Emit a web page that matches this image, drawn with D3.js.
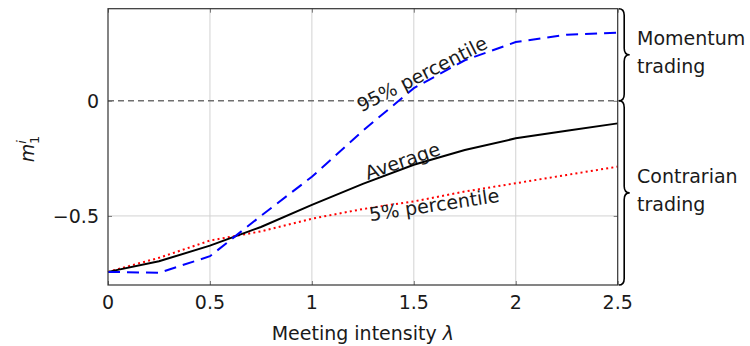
<!DOCTYPE html>
<html>
<head>
<meta charset="utf-8">
<script src="https://cdn.jsdelivr.net/npm/d3@7/dist/d3.min.js"></script>
<style>
  html, body { margin: 0; padding: 0; background: #fff; }
  svg { display: block; }
  text { font-family: "DejaVu Sans", sans-serif; fill: #1a1a1a; }
</style>
</head>
<body>
<svg id="chart" width="750" height="346"></svg>
<script>
// Meeting intensity grid
const lambdas = [0, 0.25, 0.5, 0.75, 1.0, 1.25, 1.5, 1.75, 2.0, 2.25, 2.5];
// m_1^i series
const p95 = [-0.743, -0.747, -0.675, -0.500, -0.330, -0.130, 0.055, 0.176, 0.255, 0.287, 0.296];
const avg = [-0.743, -0.697, -0.629, -0.548, -0.452, -0.361, -0.278, -0.214, -0.163, -0.130, -0.098];
const p5  = [-0.743, -0.682, -0.607, -0.567, -0.512, -0.470, -0.437, -0.394, -0.358, -0.322, -0.286];

const xTicks = [0, 0.5, 1, 1.5, 2, 2.5];
const xTickLabels = ["0", "0.5", "1", "1.5", "2", "2.5"];
const yTicks = [-0.5, 0];
const yTickLabels = ["\u22120.5", "0"];

// Curve labels: text, anchor (lambda, m), rotation
const curveLabels = [
  { text: "95% percentile", lx: 1.54, ly: 0.116, rot: -27 },
  { text: "Average", lx: 1.444, ly: -0.261, rot: -19 },
  { text: "5% percentile", lx: 1.60, ly: -0.452, rot: -8.5 }
];

const regimes = [
  { lines: ["Momentum", "trading"], from: 0.4, to: 0 },
  { lines: ["Contrarian", "trading"], from: 0, to: -0.8 }
];

const W = 750, H = 346;
const plot = { left: 108, right: 617.7, top: 8.7, bottom: 285 };
const FS = 19;

const svg = d3.select("#chart");
const x = d3.scaleLinear().domain([0, 2.5]).range([plot.left, plot.right]);
const y = d3.scaleLinear().domain([-0.8, 0.4]).range([plot.bottom, plot.top]);

// grid
const grid = svg.append("g");
grid.selectAll("line.vx").data(xTicks.filter(t => t > 0 && t < 2.5)).join("line")
  .attr("x1", d => x(d)).attr("x2", d => x(d))
  .attr("y1", plot.top).attr("y2", plot.bottom)
  .attr("stroke", "#d2d2d2").attr("stroke-width", 1);
grid.selectAll("line.hy").data(yTicks.filter(t => t !== 0)).join("line")
  .attr("x1", plot.left).attr("x2", plot.right)
  .attr("y1", d => y(d)).attr("y2", d => y(d))
  .attr("stroke", "#d2d2d2").attr("stroke-width", 1);

// zero reference line
svg.append("line")
  .attr("x1", plot.left).attr("x2", plot.right)
  .attr("y1", y(0)).attr("y2", y(0))
  .attr("stroke", "#707070").attr("stroke-width", 1.6)
  .attr("stroke-dasharray", "6,4");

// series
const line = d3.line().x((d, i) => x(lambdas[i])).y(d => y(d));
svg.append("path").datum(p5).attr("d", line)
  .attr("fill", "none").attr("stroke", "#ff0000").attr("stroke-width", 2)
  .attr("stroke-dasharray", "2,3.2");
svg.append("path").datum(avg).attr("d", line)
  .attr("fill", "none").attr("stroke", "#000").attr("stroke-width", 2);
svg.append("path").datum(p95).attr("d", line)
  .attr("fill", "none").attr("stroke", "#0000ff").attr("stroke-width", 2)
  .attr("stroke-dasharray", "12,7");

// axes (ticks drawn inward on all four sides)
const xAxisB = d3.axisBottom(x).tickValues(xTicks).tickSize(-4).tickFormat("");
const xAxisT = d3.axisTop(x).tickValues(xTicks).tickSize(-4).tickFormat("");
const yAxisL = d3.axisLeft(y).tickValues(yTicks).tickSize(-4).tickFormat("");
const yAxisR = d3.axisRight(y).tickValues(yTicks).tickSize(-4).tickFormat("");
function styleAxis(g) {
  g.select(".domain").remove();
  g.selectAll(".tick line").attr("stroke", "#777");
}
svg.append("g").attr("transform", `translate(0,${plot.bottom})`).call(xAxisB).call(styleAxis);
svg.append("g").attr("transform", `translate(0,${plot.top})`).call(xAxisT).call(styleAxis);
svg.append("g").attr("transform", `translate(${plot.left},0)`).call(yAxisL).call(styleAxis);
svg.append("g").attr("transform", `translate(${plot.right},0)`).call(yAxisR).call(styleAxis);

svg.append("rect")
  .attr("x", plot.left).attr("y", plot.top)
  .attr("width", plot.right - plot.left).attr("height", plot.bottom - plot.top)
  .attr("fill", "none").attr("stroke", "#333").attr("stroke-width", 1.2);

// tick labels
svg.append("g").selectAll("text").data(xTicks).join("text")
  .attr("x", d => x(d)).attr("y", 309)
  .attr("text-anchor", "middle").attr("font-size", FS)
  .text((d, i) => xTickLabels[i]);
svg.append("g").selectAll("text").data(yTicks).join("text")
  .attr("x", plot.left - 9).attr("y", d => y(d)).attr("dy", "0.36em")
  .attr("text-anchor", "end").attr("font-size", FS)
  .text((d, i) => yTickLabels[i]);

// axis titles
const xt = svg.append("text").attr("x", x(1.25)).attr("y", 340)
  .attr("text-anchor", "middle").attr("font-size", FS);
xt.append("tspan").text("Meeting intensity ");
xt.append("tspan").attr("font-style", "italic").text("\u03bb");

const yt = svg.append("text")
  .attr("transform", "translate(34,149) rotate(-90)")
  .attr("text-anchor", "middle").attr("font-size", FS);
yt.append("tspan").attr("font-style", "italic").text("m");
yt.append("tspan").attr("font-style", "italic").attr("font-size", 13).attr("dy", -8).text("i");
yt.append("tspan").attr("font-size", 13).attr("dx", -4).attr("dy", 13).text("1");

// curve labels
svg.append("g").selectAll("text").data(curveLabels).join("text")
  .attr("transform", d => `translate(${x(d.lx)},${y(d.ly)}) rotate(${d.rot})`)
  .attr("text-anchor", "middle").attr("dy", "0.35em").attr("font-size", FS)
  .text(d => d.text);

// regime braces on the right
function bracePath(x0, y1, y2, w) {
  const ym = (y1 + y2) / 2, h = w / 2, r = Math.min(w * 0.6, (y2 - y1) / 4);
  return `M${x0},${y1} Q${x0 + h},${y1} ${x0 + h},${y1 + r}` +
    ` L${x0 + h},${ym - r} Q${x0 + h},${ym} ${x0 + w},${ym}` +
    ` Q${x0 + h},${ym} ${x0 + h},${ym + r}` +
    ` L${x0 + h},${y2 - r} Q${x0 + h},${y2} ${x0},${y2}`;
}
const rg = svg.append("g").selectAll("g").data(regimes).join("g");
rg.append("path")
  .attr("d", d => bracePath(plot.right + 1, y(d.from), y(d.to), 11))
  .attr("fill", "none").attr("stroke", "#000").attr("stroke-width", 1.6);
rg.each(function (d) {
  const ym = (y(d.from) + y(d.to)) / 2;
  const t = d3.select(this).append("text")
    .attr("x", 637).attr("y", ym - 10).attr("font-size", FS);
  d.lines.forEach((s, i) => t.append("tspan").attr("x", 637).attr("dy", i ? 28 : 0).text(s));
});
</script>
</body>
</html>
